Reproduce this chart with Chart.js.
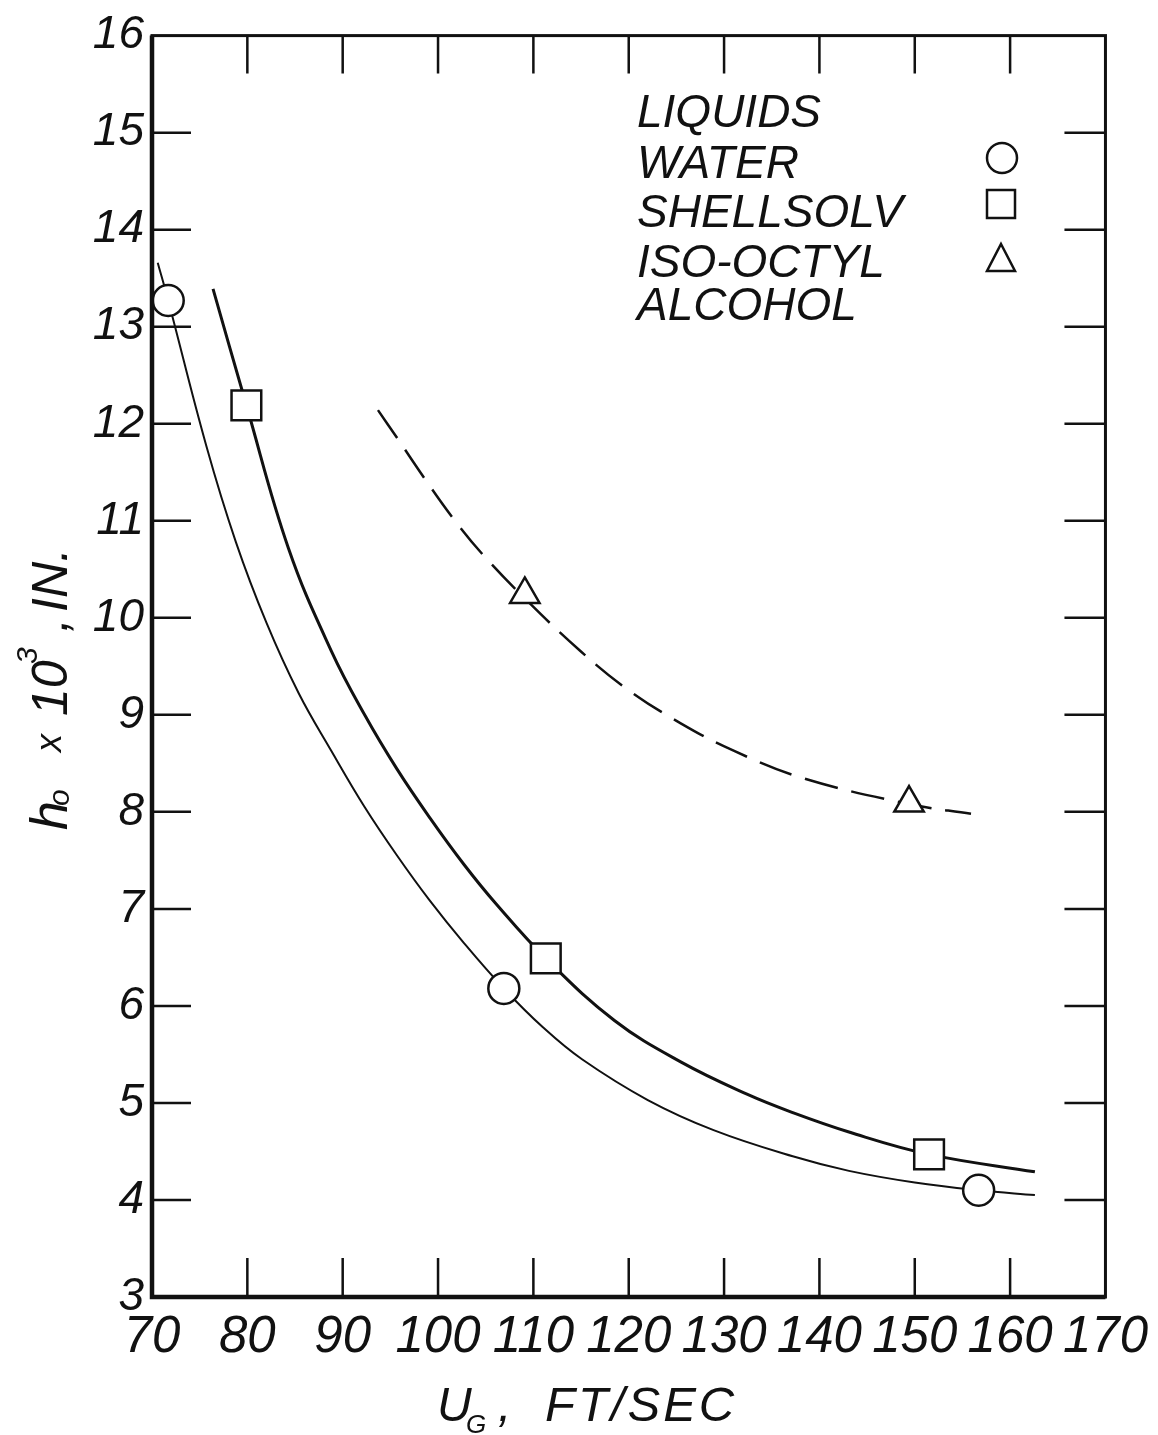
<!DOCTYPE html>
<html>
<head>
<meta charset="utf-8">
<script src="https://cdn.jsdelivr.net/npm/chart.js@4.4.1/dist/chart.umd.min.js"></script>
<style>
  html, body { margin: 0; padding: 0; background: #fff; }
</style>
</head>
<body>
<canvas id="chart" width="1158" height="1435"></canvas>
<script>
// axis ticks
const xTicks = [70, 80, 90, 100, 110, 120, 130, 140, 150, 160, 170];
const yTicks = [3, 4, 5, 6, 7, 8, 9, 10, 11, 12, 13, 14, 15, 16];

// measured points (U_G ft/sec, h_o x 10^3 in.)
const waterX = [71.7, 106.9, 156.7];
const waterY = [13.27, 6.18, 4.10];
const shellX = [79.9, 111.3, 151.5];
const shellY = [12.19, 6.49, 4.47];
const octylX = [109.1, 149.4];
const octylY = [10.24, 8.09];

// faired curves
const waterCurveX = [70.6, 71.7, 75.7, 78.8, 82.0, 85.4, 88.8, 92.3, 95.7, 99.1, 102.7, 106.9, 111.0, 115.1, 122.0, 128.9, 137.2, 143.1, 150.0, 156.7, 162.6];
const waterCurveY = [13.66, 13.27, 11.77, 10.78, 9.95, 9.22, 8.63, 8.05, 7.55, 7.09, 6.65, 6.18, 5.78, 5.45, 5.03, 4.72, 4.45, 4.30, 4.18, 4.10, 4.05];
const shellCurveX = [76.4, 79.9, 84.3, 88.8, 92.3, 95.7, 99.2, 102.7, 106.1, 111.3, 118.5, 125.5, 132.4, 137.2, 143.1, 151.5, 162.6];
const shellCurveY = [13.39, 12.19, 10.72, 9.66, 9.00, 8.44, 7.93, 7.46, 7.05, 6.49, 5.85, 5.42, 5.09, 4.90, 4.70, 4.47, 4.29];
const octylCurveX = [93.7, 95.8, 98.7, 101.7, 104.8, 109.1, 114.9, 119.9, 125.5, 131.0, 138.2, 149.4, 155.9];
const octylCurveY = [12.14, 11.84, 11.42, 11.01, 10.64, 10.20, 9.66, 9.26, 8.91, 8.63, 8.35, 8.08, 7.98];

const legendNames = ['WATER', 'SHELLSOLV', 'ISO-OCTYL', 'ALCOHOL'];

const FONT = "'Liberation Sans', 'DejaVu Sans', sans-serif";
const NARROW = "'Liberation Sans Narrow', 'Liberation Sans', sans-serif";
const INK = '#111';

const pts = (xs, ys) => xs.map((x, i) => ({ x: x, y: ys[i] }));

function marker(ctx, style, x, y) {
  ctx.beginPath();
  if (style === 'circle') {
    ctx.arc(x, y, 15, 0, Math.PI * 2);
  } else if (style === 'rect') {
    ctx.rect(x - 14, y - 14, 28, 28);
  } else {
    ctx.moveTo(x, y - 15);
    ctx.lineTo(x + 14, y + 12);
    ctx.lineTo(x - 14, y + 12);
    ctx.closePath();
  }
  ctx.fillStyle = '#fff';
  ctx.fill();
  ctx.stroke();
}

// frame with inward ticks on all four sides
const framePlugin = {
  id: 'frame',
  afterDatasetsDraw(chart) {
    const { ctx, chartArea: a, scales } = chart;
    ctx.save();
    ctx.strokeStyle = INK;
    ctx.lineCap = 'butt';
    ctx.lineWidth = 2.5;
    xTicks.slice(1, -1).forEach(v => {
      const px = scales.x.getPixelForValue(v);
      ctx.beginPath();
      ctx.moveTo(px, a.bottom); ctx.lineTo(px, a.bottom - 39);
      ctx.moveTo(px, a.top); ctx.lineTo(px, a.top + 38);
      ctx.stroke();
    });
    yTicks.slice(1, -1).forEach(v => {
      const py = scales.y.getPixelForValue(v);
      ctx.beginPath();
      ctx.moveTo(a.left, py); ctx.lineTo(a.left + 39, py);
      ctx.moveTo(a.right, py); ctx.lineTo(a.right - 41, py);
      ctx.stroke();
    });
    ctx.lineWidth = 3;
    ctx.strokeRect(a.left, a.top, a.right - a.left, a.bottom - a.top);
    ctx.lineWidth = 4.5;
    ctx.beginPath();
    ctx.moveTo(a.left, a.top); ctx.lineTo(a.left, a.bottom); ctx.lineTo(a.right, a.bottom);
    ctx.stroke();
    ctx.restore();
  }
};

// legend box in the upper right of the plot
const legendPlugin = {
  id: 'liquidsLegend',
  afterDraw(chart) {
    const ctx = chart.ctx;
    ctx.save();
    ctx.fillStyle = INK;
    ctx.strokeStyle = INK;
    ctx.lineWidth = 2.5;
    ctx.font = 'italic 46px ' + FONT;
    ctx.textBaseline = 'alphabetic';
    ctx.fillText('LIQUIDS', 637, 127);
    const rows = [178, 227, 277, 320];
    legendNames.forEach((n, i) => ctx.fillText(n, 637, rows[i]));
    marker(ctx, 'circle', 1002, 158);
    marker(ctx, 'rect', 1001, 204);
    marker(ctx, 'triangle', 1001, 259);
    ctx.restore();
  }
};

// axis titles with sub/superscripts
const titlePlugin = {
  id: 'axisTitles',
  afterDraw(chart) {
    const ctx = chart.ctx;
    ctx.save();
    ctx.fillStyle = INK;
    ctx.textBaseline = 'alphabetic';
    // x title: U_G , FT/SEC
    ctx.font = 'italic 48px ' + FONT;
    ctx.fillText('U', 437, 1421);
    ctx.font = 'italic 26px ' + FONT;
    ctx.fillText('G', 466, 1433);
    ctx.font = 'italic 48px ' + FONT;
    ctx.fillText(',', 498, 1421);
    ctx.letterSpacing = '3px';
    ctx.font = 'italic 49px ' + FONT;
    ctx.fillText('FT/SEC', 545, 1421);
    ctx.letterSpacing = '0px';
    // y title: h_o x 10^3 , IN.  (rotated, reads upward)
    ctx.translate(67, 830);
    ctx.rotate(-Math.PI / 2);
    ctx.font = 'italic 52px ' + FONT;
    ctx.fillText('h', 0, 0);
    ctx.font = 'italic 30px ' + FONT;
    ctx.fillText('o', 24, 2);
    ctx.font = 'italic 36px ' + FONT;
    ctx.fillText('x', 78, -6);
    ctx.font = 'italic 50px ' + FONT;
    ctx.fillText('10', 114, 0);
    ctx.font = 'italic 30px ' + FONT;
    ctx.fillText('3', 166, -30);
    ctx.font = 'italic 50px ' + FONT;
    ctx.fillText(',', 198, 0);
    ctx.fillText('IN.', 218, 0);
    ctx.restore();
  }
};

const ctx = document.getElementById('chart');

new Chart(ctx, {
  type: 'scatter',
  data: {
    datasets: [
      {
        label: 'WATER', data: pts(waterX, waterY), order: 0,
        pointStyle: 'circle', pointRadius: 15.5,
        pointBackgroundColor: '#fff', pointBorderColor: INK, pointBorderWidth: 2.5,
        showLine: false, clip: false
      },
      {
        label: 'SHELLSOLV', data: pts(shellX, shellY), order: 0,
        pointStyle: 'rect', pointRadius: 21,
        pointBackgroundColor: '#fff', pointBorderColor: INK, pointBorderWidth: 2.5,
        showLine: false, clip: false
      },
      {
        label: 'ISO-OCTYL ALCOHOL', data: pts(octylX, octylY), order: 0,
        pointStyle: 'triangle', pointRadius: 17,
        pointBackgroundColor: '#fff', pointBorderColor: INK, pointBorderWidth: 2.5,
        showLine: false, clip: false
      },
      {
        label: 'water curve', data: pts(waterCurveX, waterCurveY), order: 1,
        showLine: true, borderColor: INK, borderWidth: 2, pointRadius: 0, tension: 0.4
      },
      {
        label: 'shellsolv curve', data: pts(shellCurveX, shellCurveY), order: 1,
        showLine: true, borderColor: INK, borderWidth: 3, pointRadius: 0, tension: 0.4
      },
      {
        label: 'iso-octyl curve', data: pts(octylCurveX, octylCurveY), order: 1,
        showLine: true, borderColor: INK, borderWidth: 2.5, borderDash: [34, 14], pointRadius: 0, tension: 0.4
      }
    ]
  },
  options: {
    responsive: false,
    animation: false,
    layout: { padding: { top: 33, right: 42, left: 0, bottom: 0 } },
    plugins: {
      legend: { display: false },
      tooltip: { enabled: false }
    },
    scales: {
      x: {
        type: 'linear', min: 70, max: 170,
        afterBuildTicks: s => { s.ticks = xTicks.map(v => ({ value: v })); },
        afterFit: s => { s.height = 138; },
        grid: { display: false, drawTicks: false },
        border: { display: false },
        ticks: {
          autoSkip: false, maxRotation: 0, padding: 10, color: INK,
          font: { family: NARROW, size: 51, style: 'italic' }
        }
      },
      y: {
        type: 'linear', min: 3, max: 16,
        afterBuildTicks: s => { s.ticks = yTicks.map(v => ({ value: v })); },
        afterFit: s => { s.width = 152; },
        grid: { display: false, drawTicks: false },
        border: { display: false },
        ticks: {
          autoSkip: false, padding: 8, color: INK,
          font: { family: NARROW, size: 46, style: 'italic' }
        }
      }
    }
  },
  plugins: [framePlugin, legendPlugin, titlePlugin]
});
</script>
</body>
</html>
